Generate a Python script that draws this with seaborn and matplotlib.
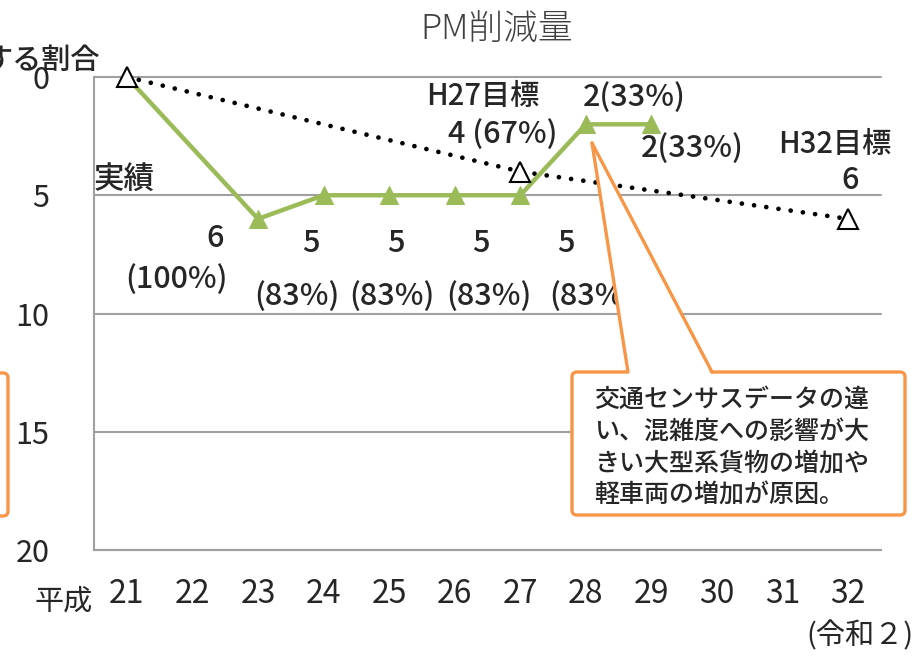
import matplotlib
matplotlib.use('Agg')
import matplotlib.pyplot as plt
import seaborn as sns
import numpy as np
from matplotlib import font_manager
from matplotlib.patches import FancyBboxPatch, Polygon
from matplotlib.lines import Line2D

# データ
years = [21, 22, 23, 24, 25, 26, 27, 28, 29, 30, 31, 32]
jisseki_years = [21, 23, 24, 25, 26, 27, 28, 29]
jisseki_values = [0, 6, 5, 5, 5, 5, 2, 2]
mokuhyo_years = [21, 27, 32]
mokuhyo_values = [0, 4, 6]
base_value = 6
y_ticks = [0, 5, 10, 15, 20]
callout_lines = ['交通センサスデータの違', 'い、混雑度への影響が大',
                 'きい大型系貨物の増加や', '軽車両の増加が原因。']

GREEN = '#9BBB59'
ORANGE = '#F79646'
GRAY = '#A0A0A0'

sns.set_style('white')
plt.rcParams['font.family'] = ['Noto Sans CJK JP', 'DejaVu Sans']

names = {f.name for f in font_manager.fontManager.ttflist}
narrow = ['Liberation Sans Narrow', 'Noto Sans CJK JP'] if 'Liberation Sans Narrow' in names \
    else ['Noto Sans CJK JP']

W, H = 924, 656
fig = plt.figure(figsize=(W / 100, H / 100), dpi=100)
ax = fig.add_axes([94 / W, 1 - 550 / H, (881 - 94) / W, (550 - 77) / H])


def pin(x, y):
    """ピクセル座標 -> インチ座標"""
    return x / 100, (H - y) / 100


# 目標（点線）
sns.lineplot(x=mokuhyo_years, y=mokuhyo_values, ax=ax, color='black',
             linewidth=3.4, zorder=2)
ax.lines[-1].set_linestyle((0, (0.01, 2.6)))
ax.lines[-1].set_dash_capstyle('round')

# 実績（緑）
sns.lineplot(x=jisseki_years, y=jisseki_values, ax=ax, color=GREEN,
             linewidth=3.2, marker='^', markersize=13, markeredgecolor=GREEN, zorder=3)

# 目標マーカー（白抜き三角）
ax.plot(mokuhyo_years, mokuhyo_values, linestyle='none', marker='^', markersize=14,
        markerfacecolor='white', markeredgecolor='black', markeredgewidth=1.5,
        zorder=4, clip_on=False)

ax.set_xlim(20.5, 32.5)
ax.set_ylim(20, 0)
ax.set_xticks(years)
ax.set_xticklabels([str(y) for y in years], family=narrow, fontsize=23)
ax.set_xticks(np.arange(21.5, 33, 1), minor=True)
ax.tick_params(axis='x', which='major', length=0, pad=20)
ax.tick_params(axis='x', which='minor', direction='in', length=7, width=1.2, color=GRAY)
ax.set_yticks(y_ticks)
ax.set_yticklabels([str(v) for v in y_ticks], fontsize=22)
ax.tick_params(axis='y', length=0, pad=32)
ax.yaxis.grid(True, color=GRAY, linewidth=1.5)
for gl in ax.get_ygridlines():
    gl.set_clip_on(False)
ax.set_xlabel('')
ax.set_ylabel('')
for s in ['top', 'right']:
    ax.spines[s].set_visible(False)
for s in ['left', 'bottom']:
    ax.spines[s].set_color(GRAY)
    ax.spines[s].set_linewidth(1.5)

# データラベル
label_fs = 22
label_w = 'medium'


def pct(v):
    return round(v / base_value * 100)


# 実績ラベル（ピクセルオフセット）
jisseki_offsets = {23: [(-43, 20), (-81, 61)], 24: [(-13, 48), (-27, 101)],
                   25: [(7, 48), (3, 101)], 26: [(26, 48), (34, 101)],
                   27: [(46, 48), (72, 101)]}
for yr, v in zip(jisseki_years, jisseki_values):
    if yr in jisseki_offsets:
        (dx1, dy1), (dx2, dy2) = jisseki_offsets[yr]
        ax.annotate(f'{v}', (yr, v), xytext=(dx1 / 1.389, -dy1 / 1.389),
                    textcoords='offset points', ha='center', va='center',
                    fontsize=label_fs, fontweight=label_w, zorder=1)
        ax.annotate(f'({pct(v)}%)', (yr, v), xytext=(dx2 / 1.389, -dy2 / 1.389),
                    textcoords='offset points', ha='center', va='center',
                    fontsize=label_fs, fontweight=label_w, zorder=1,
                    annotation_clip=False)
two_offsets = {28: (48, -27), 29: (41, 24)}
for yr, v in zip(jisseki_years, jisseki_values):
    if yr in two_offsets:
        dx, dy = two_offsets[yr]
        ax.annotate(f'{v}({pct(v)}%)', (yr, v), xytext=(dx / 1.389, -dy / 1.389),
                    textcoords='offset points', ha='center', va='center',
                    fontsize=label_fs, fontweight=label_w)

# 目標ラベル
t27 = mokuhyo_values[1]
ax.annotate('H27目標', (27, t27), xytext=(-38 / 1.389, 75 / 1.389),
            textcoords='offset points', ha='center', va='center',
            fontsize=label_fs - 1, fontweight=label_w)
ax.annotate(f'{t27} ({pct(t27)}%)', (27, t27), xytext=(-18 / 1.389, 37 / 1.389),
            textcoords='offset points', ha='center', va='center',
            fontsize=label_fs, fontweight=label_w)
t32 = mokuhyo_values[2]
ax.annotate('H32目標', (32, t32), xytext=(-13 / 1.389, 74 / 1.389),
            textcoords='offset points', ha='center', va='center',
            fontsize=label_fs - 1, fontweight=label_w)
ax.annotate(f'{t32}', (32, t32), xytext=(2 / 1.389, 38 / 1.389),
            textcoords='offset points', ha='center', va='center',
            fontsize=label_fs, fontweight=label_w)

T = fig.dpi_scale_trans
fig.text(*pin(94, 180), '実績', transform=T, ha='left', va='center',
         fontsize=label_fs, fontweight=label_w)
fig.text(*pin(497, 30), 'PM削減量', transform=T, ha='center', va='center',
         fontsize=25, fontweight='light', color='#404040')
fig.text(*pin(100, 60), 'する割合', transform=T, ha='right', va='center',
         fontsize=21, fontweight=label_w)
fig.text(*pin(64, 602), '平成', transform=T, ha='center', va='center',
         fontsize=21, family=narrow)
fig.text(*pin(860, 636), '(令和２)', transform=T, ha='center', va='center',
         fontsize=21, family=narrow)

# 左端の枠（一部）
fig.add_artist(FancyBboxPatch(pin(-40, 516), 48 / 100, 143 / 100, transform=T,
                              boxstyle='round,pad=0,rounding_size=0.05',
                              facecolor='none', edgecolor=ORANGE, linewidth=2.4))

# 吹き出し
fig.add_artist(FancyBboxPatch(pin(572, 515), (905 - 572) / 100, (515 - 372) / 100,
                              transform=T, boxstyle='round,pad=0,rounding_size=0.05',
                              facecolor='white', edgecolor=ORANGE, linewidth=2.4,
                              zorder=5))
tip, bl, br = pin(592, 143), pin(628, 376), pin(712, 376)
fig.add_artist(Polygon([tip, bl, br], closed=True, transform=T, facecolor='white',
                       edgecolor='none', zorder=6))
for p in (bl, br):
    fig.add_artist(Line2D([tip[0], p[0]], [tip[1], pin(0, 372)[1]], transform=T,
                          color=ORANGE, linewidth=2.4, zorder=7))
for i, line in enumerate(callout_lines):
    fig.text(*pin(594, 400 + i * 32), line, transform=T, ha='left', va='center',
             fontsize=18, fontweight=label_w, zorder=8)

fig.savefig('out.png', dpi=100)
